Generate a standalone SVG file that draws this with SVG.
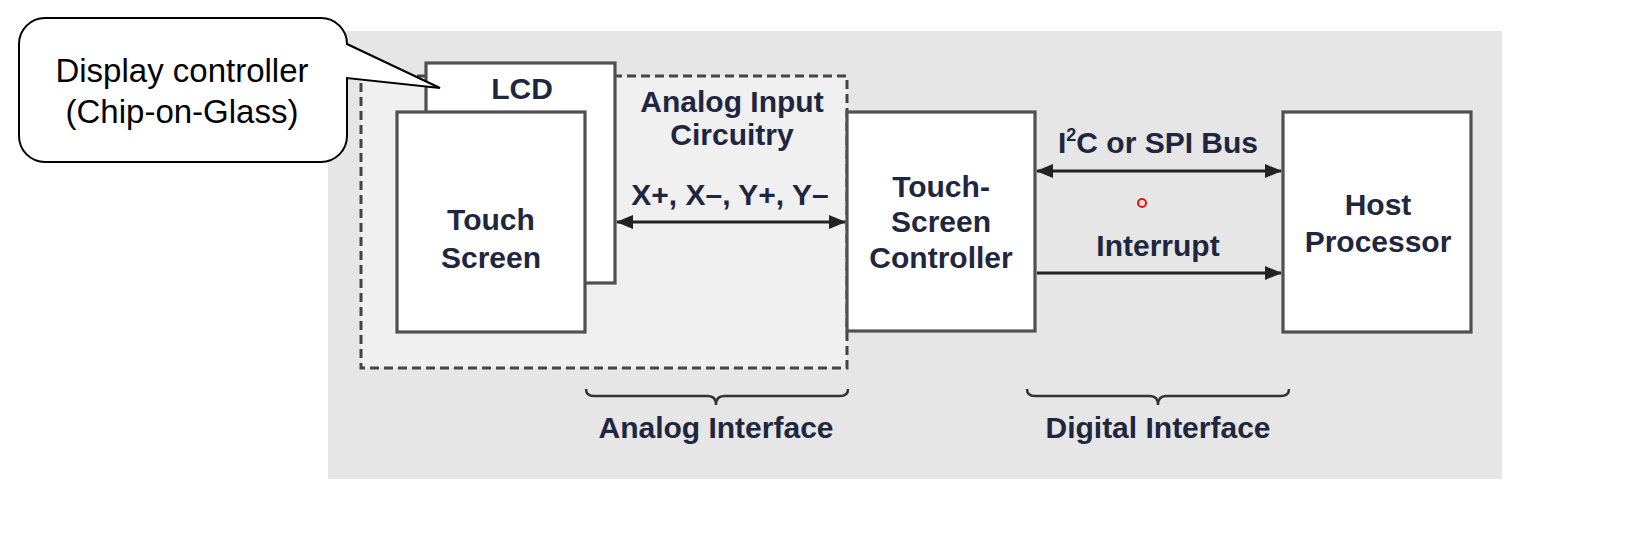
<svg xmlns="http://www.w3.org/2000/svg" width="1642" height="539" viewBox="0 0 1642 539">
<defs>
<style>
.box{fill:#ffffff;stroke:#505050;stroke-width:3.2}
.lbl{font-family:"Liberation Sans",Arial,sans-serif;font-weight:bold;font-size:30px;fill:#1f2740;text-anchor:middle}
.call{font-family:"Liberation Sans",Arial,sans-serif;font-size:33px;fill:#000000;text-anchor:middle}
.wire{stroke:#222222;stroke-width:3;fill:none}
.brace{stroke:#333333;stroke-width:2.5;fill:none}
</style>
<marker id="ah" viewBox="0 0 17 14" refX="16" refY="7" markerWidth="17" markerHeight="14" markerUnits="userSpaceOnUse" orient="auto-start-reverse">
<path d="M0,0 L17,7 L0,14 Z" fill="#222222"/>
</marker>
</defs>
<rect x="0" y="0" width="1642" height="539" fill="#ffffff"/>
<rect x="328" y="31" width="1174" height="448" fill="#e6e6e6"/>

<g id="analog-input-circuitry">
<rect x="361" y="76" width="486" height="292" fill="#f0f0f0" stroke="#444444" stroke-width="3" stroke-dasharray="9,5"/>
<text class="lbl" x="732" y="112">Analog Input</text>
<text class="lbl" x="732" y="145">Circuitry</text>
</g>

<g id="lcd">
<rect class="box" x="426" y="63" width="189" height="220"/>
<text class="lbl" x="522" y="99">LCD</text>
</g>

<g id="touch-screen">
<rect class="box" x="397" y="112" width="188" height="220"/>
<text class="lbl" x="491" y="230">Touch</text>
<text class="lbl" x="491" y="268">Screen</text>
</g>

<g id="touch-screen-controller">
<rect class="box" x="847" y="112" width="188" height="219"/>
<text class="lbl" x="941" y="197">Touch-</text>
<text class="lbl" x="941" y="232">Screen</text>
<text class="lbl" x="941" y="268">Controller</text>
</g>

<g id="host-processor">
<rect class="box" x="1283" y="112" width="188" height="220"/>
<text class="lbl" x="1378" y="215">Host</text>
<text class="lbl" x="1378" y="252">Processor</text>
</g>

<g id="connectors">
<line class="wire" x1="617" y1="222" x2="845" y2="222" marker-start="url(#ah)" marker-end="url(#ah)"/>
<text class="lbl" x="730" y="205">X+, X–, Y+, Y–</text>
<line class="wire" x1="1037" y1="171" x2="1281" y2="171" marker-start="url(#ah)" marker-end="url(#ah)"/>
<text class="lbl" x="1158" y="153">I<tspan font-size="18px" dy="-12">2</tspan><tspan dy="12">C or SPI Bus</tspan></text>
<line class="wire" x1="1037" y1="273" x2="1281" y2="273" marker-end="url(#ah)"/>
<text class="lbl" x="1158" y="256">Interrupt</text>
</g>

<g id="analog-interface">
<path class="brace" d="M586,389 Q586,396 594,396 H708 Q716,396 716,405 Q716,396 724,396 H840 Q848,396 848,389"/>
<text class="lbl" x="716" y="438">Analog Interface</text>
</g>

<g id="digital-interface">
<path class="brace" d="M1027,389 Q1027,396 1035,396 H1150 Q1158,396 1158,405 Q1158,396 1166,396 H1281 Q1289,396 1289,389"/>
<text class="lbl" x="1158" y="438">Digital Interface</text>
</g>

<g id="callout">
<path d="M45,18 H321 A26,26 0 0 1 347,44 L440,88 L347,78 V136 A26,26 0 0 1 321,162 H45 A26,26 0 0 1 19,136 V44 A26,26 0 0 1 45,18 Z" fill="#ffffff" stroke="#000000" stroke-width="2"/>
<text class="call" x="182" y="82">Display controller</text>
<text class="call" x="182" y="123">(Chip-on-Glass)</text>
</g>

<circle cx="1142" cy="203" r="4" fill="#ffe0e0" stroke="#ee1111" stroke-width="2"/>
</svg>
